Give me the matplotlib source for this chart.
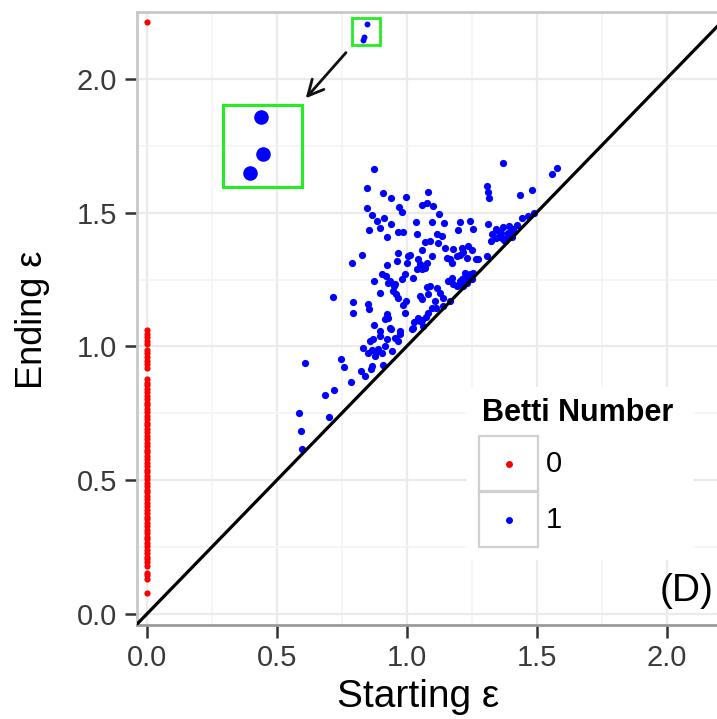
import matplotlib.pyplot as plt
from matplotlib.patches import Rectangle

plt.rcParams['font.family'] = ['Liberation Sans', 'DejaVu Sans']

# Betti 0 features: all born at 0
red_y = [0.08, 0.13, 0.145, 0.155, 0.18, 0.195, 0.205, 0.215, 0.23, 0.24, 0.255, 0.265,
         0.28, 0.29, 0.305, 0.315, 0.33, 0.34, 0.355, 0.365, 0.38, 0.39, 0.405, 0.415,
         0.43, 0.44, 0.455, 0.465, 0.48, 0.49, 0.505, 0.515, 0.53, 0.54, 0.555, 0.565,
         0.58, 0.59, 0.605, 0.615, 0.63, 0.64, 0.655, 0.665, 0.68, 0.69, 0.705, 0.715,
         0.73, 0.74, 0.755, 0.765, 0.78, 0.79, 0.805, 0.815, 0.83, 0.84, 0.855, 0.865,
         0.88, 0.92, 0.935, 0.945, 0.96, 0.975, 0.985, 1.01, 1.02, 1.035, 1.045, 1.06,
         2.21]
red_x = [0.0] * len(red_y)

# Betti 1 features
blue_x = [0.874, 1.370, 1.578, 1.559, 0.847, 0.909, 0.940, 0.997, 1.082, 1.309,
          1.313, 1.317, 1.436, 1.482, 0.847, 0.867, 0.886, 0.913, 0.940, 0.897,
          0.855, 0.970, 0.982, 1.059, 1.078, 1.101, 1.124, 1.036, 0.967, 0.986,
          0.924, 1.040, 1.097, 1.143, 1.205, 1.243, 1.197, 1.255, 1.313, 1.343,
          1.370, 1.390, 1.405, 1.328, 1.359, 1.378, 1.324, 1.424, 1.443, 1.467,
          1.490, 1.070, 1.117, 1.136, 1.090, 1.120, 1.147, 1.178, 1.213, 1.236,
          1.251, 1.059, 0.967, 1.013, 0.828, 0.790, 1.005, 0.963, 1.001, 1.051,
          1.097, 1.155, 1.174, 1.205, 1.232, 1.274, 1.309, 1.217, 1.043, 0.924,
          0.905, 0.920, 0.874, 0.936, 0.993, 0.982, 1.024, 1.059, 1.040, 1.070,
          1.078, 0.928, 0.951, 0.947, 0.897, 0.967, 1.078, 1.051, 1.059, 1.224,
          1.240, 1.251, 1.213, 1.232, 1.217, 1.174, 1.159, 1.178, 1.193, 1.090,
          1.117, 1.128, 1.140, 1.082, 1.109, 1.097, 1.140, 1.167, 0.717, 0.793,
          0.793, 0.851, 0.855, 0.874, 0.986, 0.993, 0.924, 0.928, 0.917, 0.940,
          0.974, 1.020, 1.043, 1.063, 0.897, 0.870, 0.924, 0.955, 0.967, 0.832,
          0.867, 0.890, 0.917, 0.943, 0.609, 0.747, 0.759, 0.824, 0.840, 0.863,
          0.867, 0.851, 0.878, 0.905, 0.909, 0.786, 0.720, 0.686, 0.586, 0.701,
          0.593, 0.597, 1.113, 1.024, 1.267, 1.193, 1.167, 0.959, 0.955, 0.997,
          1.082, 1.051, 0.897, 0.936, 0.974, 0.859, 0.891, 1.345, 1.365, 1.385,
          1.400, 1.350, 1.370, 1.410, 1.395, 1.225, 1.245, 1.235, 1.255, 1.205,
          1.060, 1.075, 1.030]
blue_y = [1.662, 1.685, 1.666, 1.644, 1.591, 1.573, 1.554, 1.558, 1.577, 1.599,
          1.577, 1.554, 1.565, 1.584, 1.517, 1.491, 1.469, 1.480, 1.457, 1.442,
          1.435, 1.521, 1.502, 1.528, 1.536, 1.524, 1.495, 1.465, 1.428, 1.428,
          1.409, 1.420, 1.465, 1.461, 1.465, 1.469, 1.435, 1.439, 1.457, 1.439,
          1.446, 1.424, 1.409, 1.420, 1.409, 1.394, 1.394, 1.454, 1.480, 1.487,
          1.498, 1.390, 1.420, 1.413, 1.394, 1.387, 1.368, 1.364, 1.368, 1.375,
          1.361, 1.361, 1.349, 1.342, 1.342, 1.312, 1.338, 1.320, 1.312, 1.308,
          1.338, 1.331, 1.312, 1.342, 1.331, 1.327, 1.338, 1.353, 1.327, 1.305,
          1.271, 1.264, 1.245, 1.245, 1.271, 1.253, 1.256, 1.290, 1.290, 1.293,
          1.312, 1.238, 1.226, 1.208, 1.200, 1.182, 1.223, 1.189, 1.178, 1.275,
          1.264, 1.253, 1.253, 1.238, 1.226, 1.256, 1.245, 1.234, 1.226, 1.226,
          1.219, 1.200, 1.182, 1.197, 1.171, 1.145, 1.152, 1.171, 1.185, 1.167,
          1.126, 1.159, 1.141, 1.081, 1.156, 1.126, 1.122, 1.107, 1.104, 1.066,
          1.059, 1.066, 1.107, 1.077, 1.040, 1.029, 1.029, 1.033, 1.022, 0.996,
          0.988, 0.992, 1.003, 0.984, 0.940, 0.955, 0.925, 0.910, 0.888, 0.917,
          0.928, 0.977, 0.966, 0.977, 0.932, 0.869, 0.839, 0.820, 0.753, 0.735,
          0.686, 0.619, 1.145, 1.070, 1.327, 1.338, 1.327, 1.197, 1.234, 1.171,
          1.126, 1.096, 1.059, 1.070, 1.047, 1.022, 0.984, 1.405, 1.425, 1.410,
          1.425, 1.430, 1.400, 1.440, 1.450, 1.260, 1.270, 1.250, 1.275, 1.245,
          1.100, 1.110, 1.090]

# the three points near the top, shown magnified in the big green box
top_x = [0.846, 0.838, 0.832]
top_y = [2.203, 2.154, 2.146]
zoom_x = [0.440, 0.448, 0.397]
zoom_y = [1.857, 1.717, 1.648]

ticks = [0.0, 0.5, 1.0, 1.5, 2.0]
tick_labels = ["0.0", "0.5", "1.0", "1.5", "2.0"]
legend_labels = ["0", "1"]

W, H = 717, 719
fig = plt.figure(figsize=(W / 100, H / 100), dpi=100)
# panel runs off the right edge like the source image
ax = fig.add_axes([136.7 / W, 94 / H, 593.3 / W, 613.3 / H])
ax.set_xlim(-0.038, 2.244)
ax.set_ylim(-0.04, 2.244)

ax.set_xticks(ticks)
ax.set_xticklabels(tick_labels)
ax.set_yticks(ticks)
ax.set_yticklabels(tick_labels)
ax.set_xticks([0.25, 0.75, 1.25, 1.75], minor=True)
ax.set_yticks([0.25, 0.75, 1.25, 1.75, 2.25], minor=True)
ax.grid(True, which='major', color='#ebebeb', lw=1.6, zorder=0)
ax.grid(True, which='minor', color='#f3f3f3', lw=1.2, zorder=0)
ax.set_axisbelow(True)
ax.tick_params(which='major', direction='out', length=9, width=1.8, color='#333333',
               labelsize=21, labelcolor='#3a3a3a', pad=5)
ax.tick_params(which='minor', length=0)
for s in ax.spines.values():
    s.set_color('#c8c8c8')
    s.set_linewidth(2)
ax.spines['bottom'].set_color('#9a9a9a')

ax.scatter(red_x, red_y, s=20, color='#ff0000', linewidths=0, zorder=3)
ax.scatter(blue_x, blue_y, s=27, color='#0000ff', linewidths=0, zorder=3)
ax.axline((0, 0), slope=1, color='black', lw=2.3, zorder=4)

# inset annotation
ax.scatter(top_x, top_y, s=18, color='#0000ff', linewidths=0, zorder=3)
ax.scatter(zoom_x, zoom_y, s=110, color='#0000ff', linewidths=0, zorder=3)
ax.add_patch(Rectangle((0.790, 2.124), 0.107, 0.104, fill=False, ec='#22ee22', lw=2, zorder=5))
ax.add_patch(Rectangle((0.293, 1.595), 0.304, 0.305, fill=False, ec='#22ee22', lw=2.2, zorder=5))
ax.annotate("", xy=(0.605, 1.919), xytext=(0.774, 2.105),
            arrowprops=dict(arrowstyle='->', color='#111111', lw=2, mutation_scale=28))

fig.text(418 / W, 1 - 697 / H, "Starting ε", ha='center', va='center', fontsize=28)
fig.text(33 / W, 1 - 320 / H, "Ending ε", ha='center', va='center', fontsize=26, rotation=90)

# legend, ggplot style
fig.patches.append(Rectangle((467 / W, 1 - 560 / H), 226 / W, 173 / H, transform=fig.transFigure,
                             fc='white', ec='none', zorder=1))
fig.text(482 / W, 1 - 413 / H, "Betti Number", ha='left', va='center', fontsize=22,
         fontweight='bold')
key_cols = ['#ff0000', '#0000ff']
key_tops = [436, 492]
for lab, col, top in zip(legend_labels, key_cols, key_tops):
    fig.patches.append(Rectangle((479 / W, 1 - (top + 55) / H), 59 / W, 55 / H,
                                 transform=fig.transFigure, fc='white', ec='#d0d0d0', lw=1.6,
                                 zorder=2))
    fig.text(546 / W, 1 - (top + 28) / H, lab, ha='left', va='center', fontsize=21)
    fig.lines.append(plt.Line2D([509 / W], [1 - (top + 28) / H], transform=fig.transFigure,
                                marker='o', ms=5, color=col, mec='none', zorder=3))

fig.text(660 / W, 1 - 591 / H, "(D)", ha='left', va='center', fontsize=28)

plt.savefig("out.png", dpi=100)
